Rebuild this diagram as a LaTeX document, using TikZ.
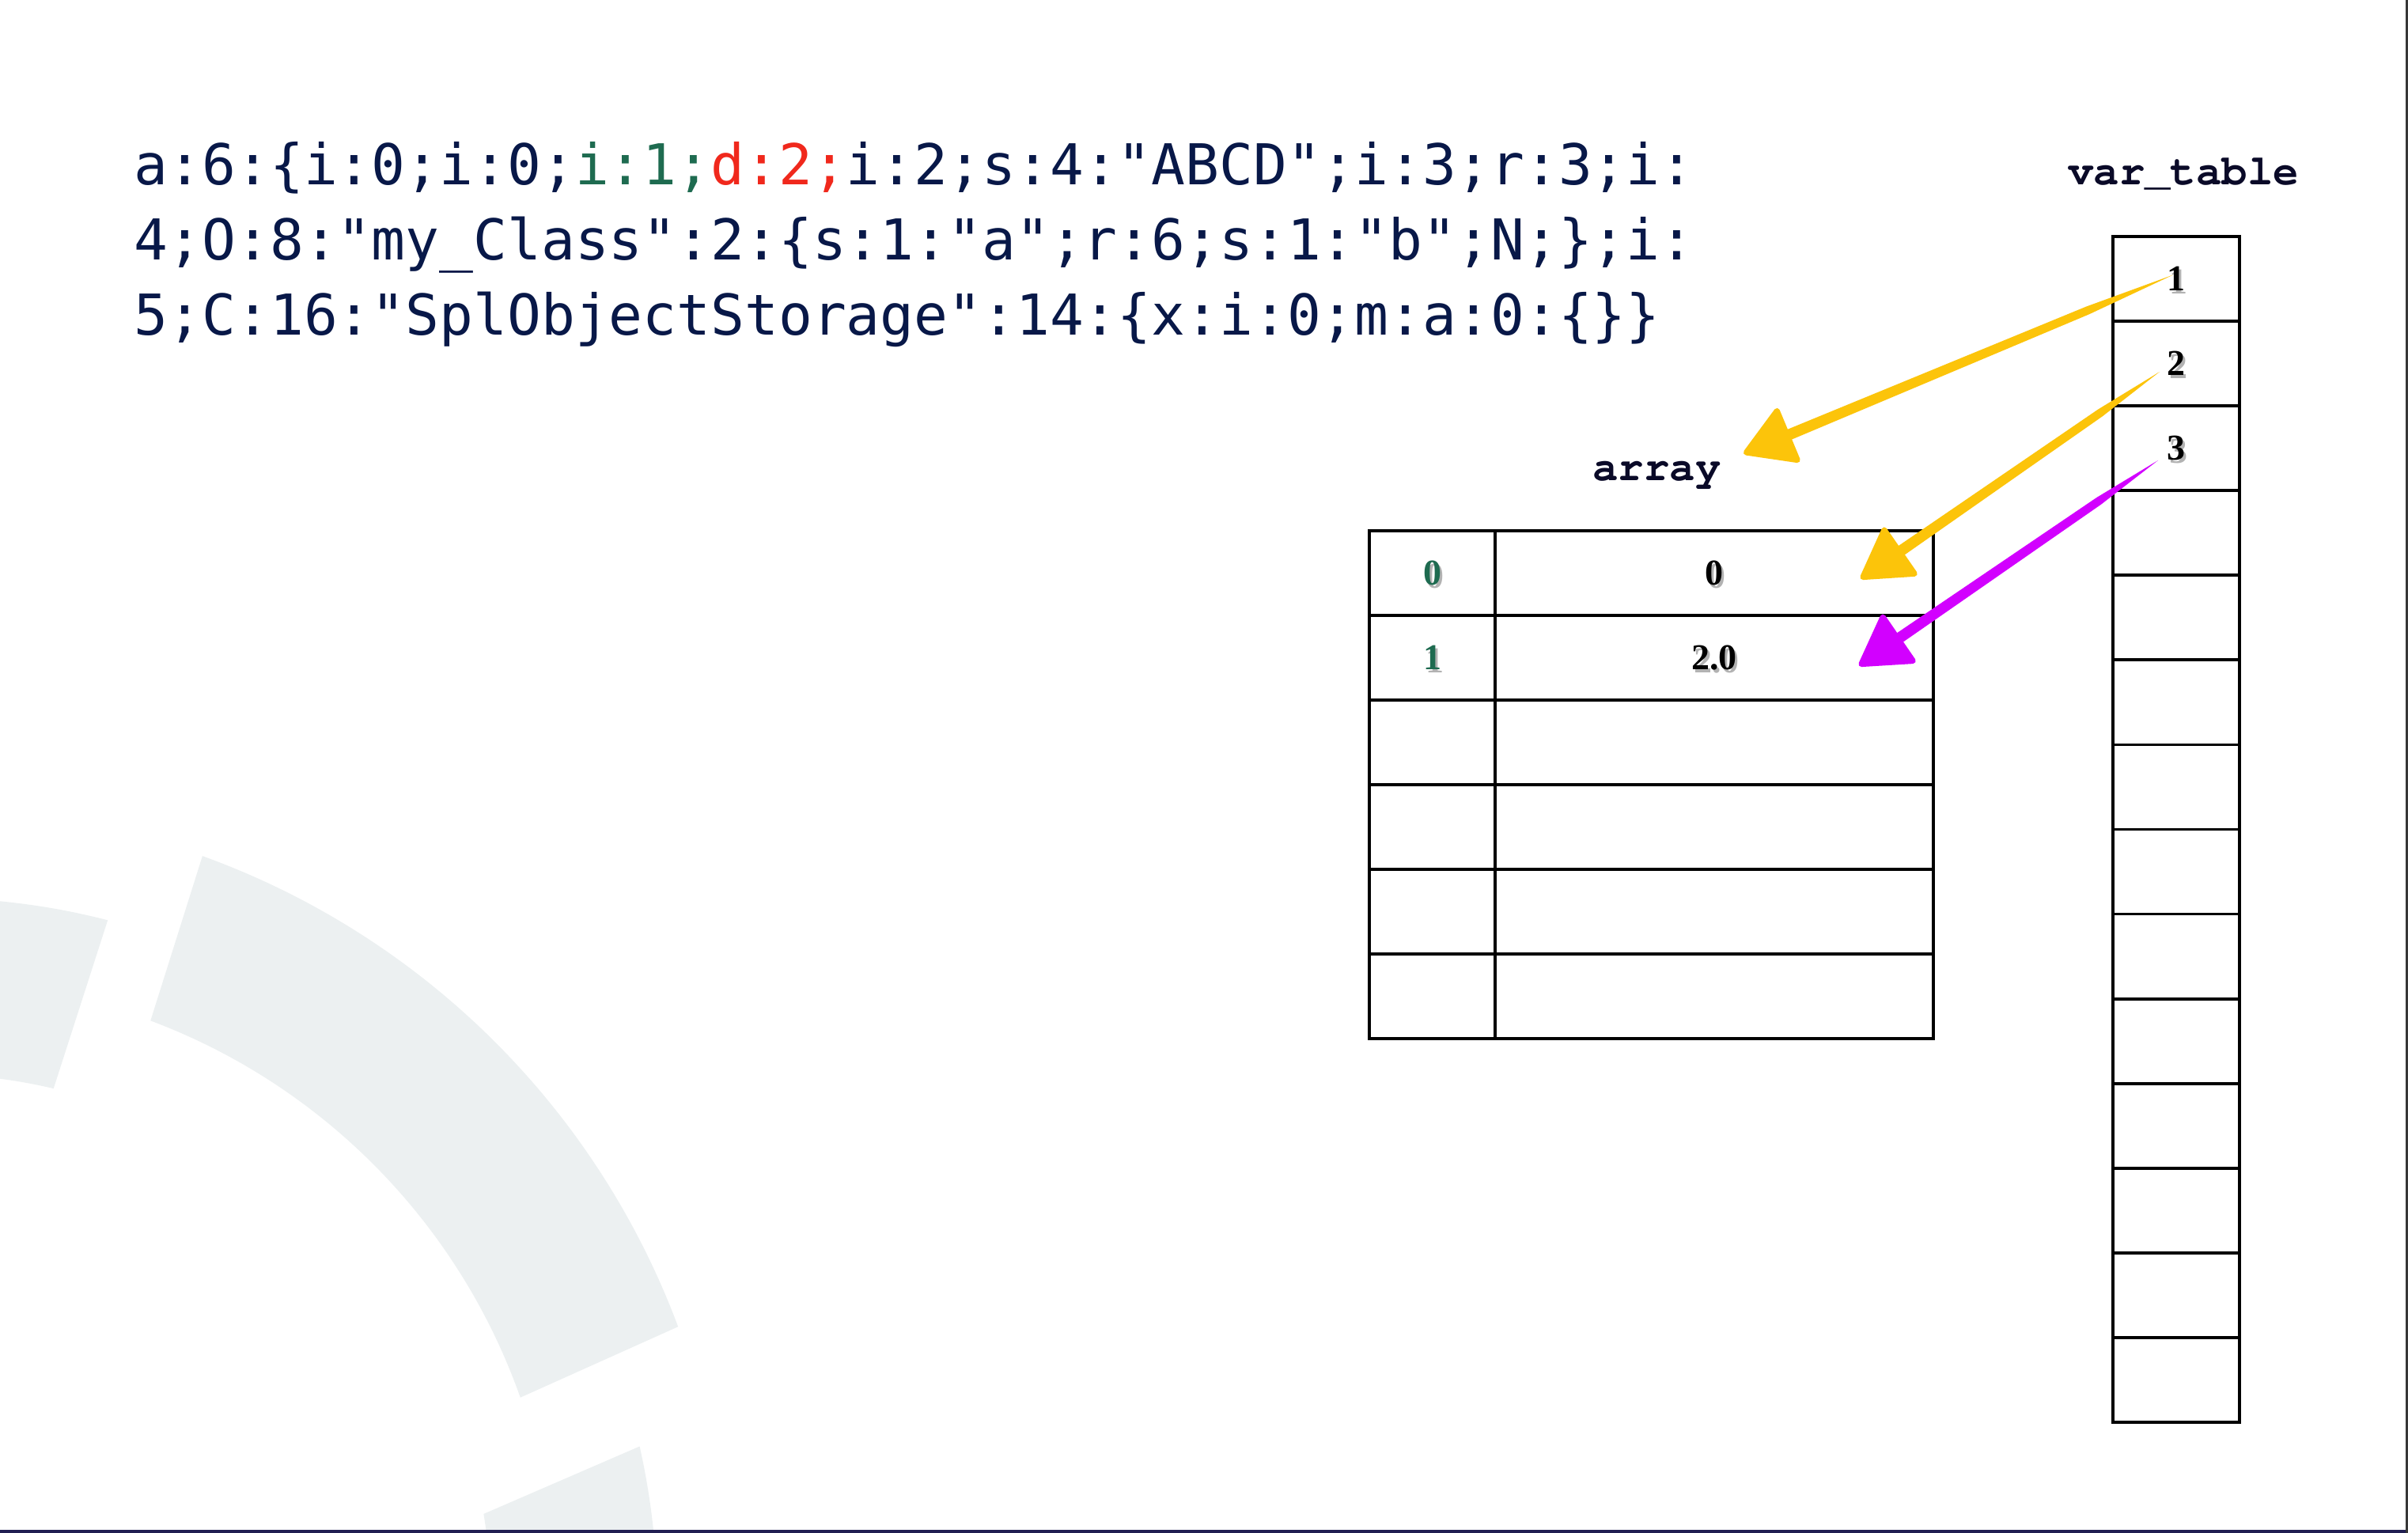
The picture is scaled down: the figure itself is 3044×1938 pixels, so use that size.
\documentclass[tikz,border=0pt]{standalone}
\usepackage[T1]{fontenc}
\usepackage{fontspec}
\usetikzlibrary{calc}
\newfontfamily\codefont{DejaVu Sans Mono}
\newfontfamily\numfont{Liberation Serif}
\newcommand\courlabel{\fontencoding{T1}\fontfamily{pcr}\fontseries{b}\fontsize{13.5pt}{16pt}\selectfont}
\definecolor{navy}{RGB}{8,24,72}
\definecolor{codegreen}{RGB}{30,107,80}
\definecolor{codered}{RGB}{240,40,28}
\definecolor{labelink}{RGB}{10,10,40}
\definecolor{wm}{RGB}{236,240,241}
\definecolor{arrowyellow}{RGB}{252,196,10}
\definecolor{arrowmagenta}{RGB}{210,0,255}
\definecolor{barnavy}{RGB}{33,31,82}
\definecolor{edgegray}{RGB}{55,55,55}
\begin{document}
\begin{tikzpicture}[x=0.25pt,y=-0.25pt,
  code/.style={anchor=base west, inner sep=0pt, text=navy,
    font=\codefont\fontsize{17.8pt}{20pt}\selectfont},
  lbl/.style={anchor=base, inner sep=0pt, text=labelink, font=\courlabel},
  vtcell/.style={draw=black, line width=0.95pt, minimum width=40pt,
    minimum height=26.77pt, inner sep=0pt, outer sep=0pt},
  acell/.style={draw=black, line width=0.95pt, minimum height=26.75pt,
    inner sep=0pt, outer sep=0pt},
  num/.style={inner sep=0pt, text=black,
    font=\numfont\bfseries\fontsize{11.5pt}{13pt}\selectfont},
  numshadow/.style={inner sep=0pt, text=black, opacity=0.3,
    font=\numfont\bfseries\fontsize{11.5pt}{13pt}\selectfont},
  shaftfill/.style={fill=#1},
  headfill/.style={fill=#1, draw=#1, line width=1.8pt, line join=round}
]
\useasboundingbox (0,0) rectangle (3044,1938);
\fill[white] (0,0) rectangle (3044,1938);

% watermark ring segments
\def\wcx{-87}\def\wcy{2030}
\begin{scope}
\clip (0,0) rectangle (3044,1934);
\fill[wm] plot[domain=-70.11:-20.49, samples=80] ({\wcx+1008*cos(\x)},{\wcy+1008*sin(\x)})
  -- plot[domain=-19.47:-69.45, samples=80] ({\wcx+790*cos(\x)},{\wcy+790*sin(\x)}) -- cycle;
\fill[wm] plot[domain=-75.56:-110, samples=40] ({\wcx+895*cos(\x)},{\wcy+895*sin(\x)})
  -- plot[domain=-110:-76.69, samples=40] ({\wcx+672*cos(\x)},{\wcy+672*sin(\x)}) -- cycle;
\fill[wm] plot[domain=-12.68:2, samples=30] ({\wcx+918*cos(\x)},{\wcy+918*sin(\x)})
  -- plot[domain=2:-9.44, samples=30] ({\wcx+708*cos(\x)},{\wcy+708*sin(\x)}) -- cycle;
\end{scope}

% frame edges
\fill[barnavy] (0,1934) rectangle (3040.5,1938);
\fill[edgegray] (3040.5,0) rectangle (3044,1938);

% serialized string
\node[code] (code1) at (169,233) {a:6:\{i:0;i:0;\textcolor{codegreen}{i:1;}\textcolor{codered}{d:2;}i:2;s:4:"ABCD";i:3;r:3;i:};
\node[code] (code2) at (169,328) {4;O:8:"my\_Class":2:\{s:1:"a";r:6;s:1:"b";N;\};i:};
\node[code] (code3) at (169,423) {5;C:16:"SplObjectStorage":14:\{x:i:0;m:a:0:\{\}\}};

% labels
\node[lbl] (vtlabel) at (2760,233) {var\_table};
\node[lbl] (arrlabel) at (2094.5,607) {array};

% var_table
\foreach \i in {1,...,14} {
  \node[vtcell] (vt\i) at (2751,{299+107.07*(\i-0.5)}) {};
}
% array table
\foreach \i in {1,...,6} {
  \node[acell, minimum width=39.75pt] (ak\i) at (1810.5,{671+107*(\i-0.5)}) {};
  \node[acell, minimum width=138.5pt] (av\i) at (2167,{671+107*(\i-0.5)}) {};
}

% cell values with soft shadows
\foreach \cellname/\val in {vt1/1,vt2/2,vt3/3,ak1/0,av1/0,ak2/1,av2/2.0} {
  \node[numshadow] at ($(\cellname.center)+(3,4)$) {\val};
}
\node[num] (n1) at (vt1) {1};
\node[num] (n2) at (vt2) {2};
\node[num] (n3) at (vt3) {3};
\node[num, text=codegreen] (k0) at (ak1) {0};
\node[num] (v0) at (av1) {0};
\node[num, text=codegreen] (k1) at (ak2) {1};
\node[num] (v1) at (av2) {2.0};

% arrows
\coordinate (s1) at ($(vt1.center)+(-4,-5)$);
\coordinate (t1) at ($(arrlabel.base)+(113,-35)$);
\coordinate (s2) at ($(vt2.center)+(-21,10.4)$);
\coordinate (t2) at ($(av1.center)+(188,5)$);
\coordinate (s3) at ($(vt3.center)+(-23,15.3)$);
\coordinate (t3) at ($(av2.center)+(186,8)$);
\foreach \k/\c in {1/arrowyellow,2/arrowyellow,3/arrowmagenta} {
  \coordinate (e\k) at ($(t\k)!10pt!(s\k)$);
  \coordinate (m\k) at ($(s\k)!0.2!(t\k)$);
  \coordinate (b\k) at ($(t\k)!14pt!(s\k)$);
  \fill[shaftfill=\c] (s\k) -- ($(m\k)!1.3pt!90:(s\k)$) -- ($(e\k)!1.75pt!90:(s\k)$)
     -- ($(e\k)!1.75pt!-90:(s\k)$) -- ($(m\k)!1.3pt!-90:(s\k)$) -- cycle;
  \filldraw[headfill=\c] (t\k) -- ($(b\k)!8.4pt!90:(t\k)$) -- ($(b\k)!8.4pt!-90:(t\k)$) -- cycle;
}
\end{tikzpicture}
\end{document}
